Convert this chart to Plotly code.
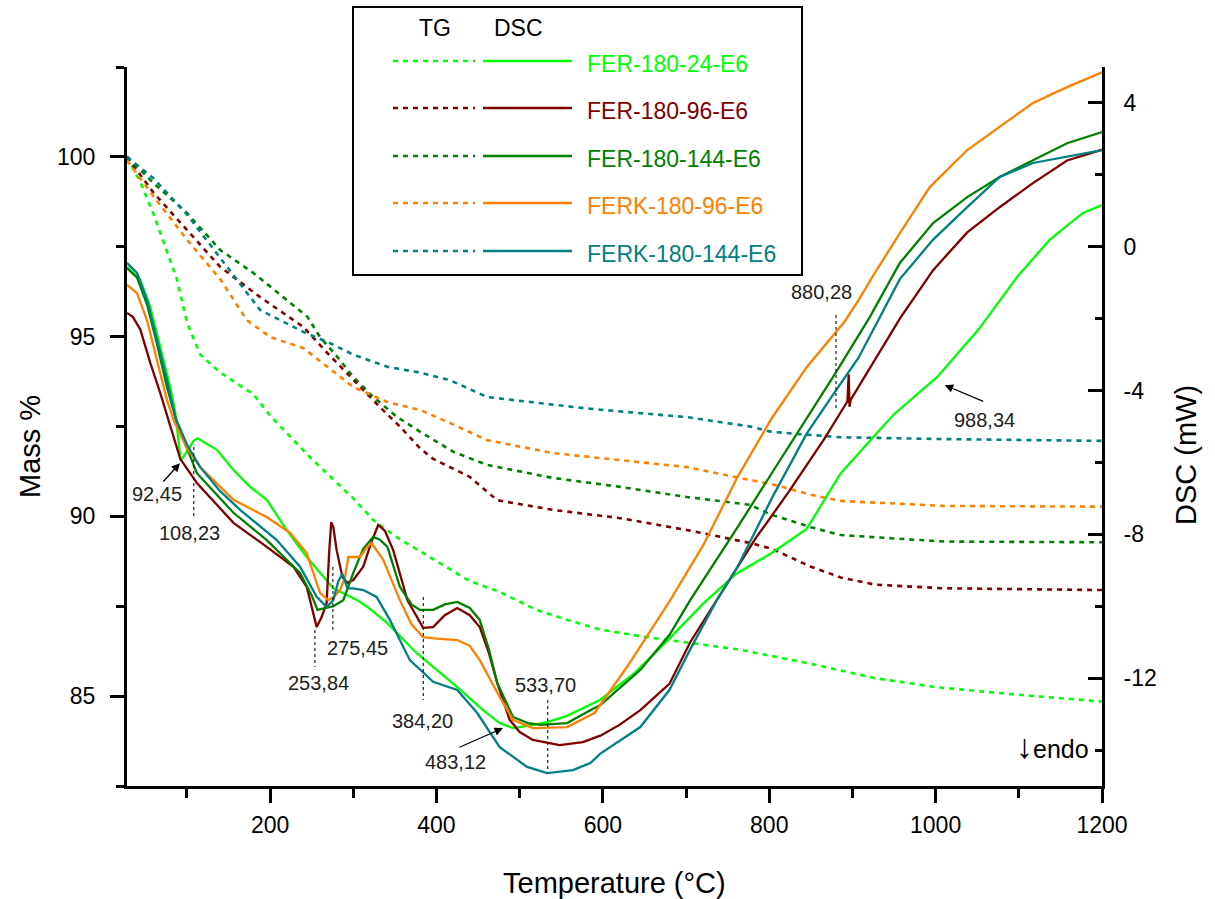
import plotly.graph_objects as go

# ---------------- data ----------------
# TG curves (Mass %, left axis)
tg_T_fer24 = [28, 44, 60, 71, 88, 100, 116, 140, 180, 200, 250, 300, 324, 350, 396, 440, 476, 520, 560, 597, 650, 700, 763, 850, 927, 1000, 1093, 1200]
tg_fer24 = [100, 99.3, 98.4, 97.7, 96.6, 95.4, 94.5, 94.0, 93.4, 92.8, 91.6, 90.5, 89.9, 89.45, 88.8, 88.2, 87.9, 87.4, 87.1, 86.85, 86.65, 86.5, 86.3, 85.9, 85.5, 85.25, 85.05, 84.85]

tg_T_fer96 = [28, 60, 100, 140, 188, 240, 269, 300, 332, 356, 380, 396, 440, 473, 540, 621, 701, 777, 803, 850, 886, 927, 1010, 1200]
tg_fer96 = [100, 99.0, 97.97, 96.94, 96.1, 95.27, 94.54, 93.79, 93.04, 92.5, 91.9, 91.6, 91.1, 90.45, 90.18, 89.95, 89.62, 89.26, 89.1, 88.6, 88.3, 88.1, 88.0, 87.95]

tg_T_fer144 = [28, 60, 100, 140, 180, 220, 245, 260, 281, 300, 324, 353, 380, 420, 461, 540, 621, 701, 777, 803, 850, 886, 1010, 1200]
tg_fer144 = [100, 99.27, 98.44, 97.41, 96.77, 96.02, 95.55, 94.99, 94.43, 93.88, 93.32, 92.76, 92.36, 91.8, 91.43, 91.07, 90.82, 90.54, 90.32, 90.04, 89.7, 89.48, 89.3, 89.28]

tg_T_ferk96 = [28, 60, 100, 140, 172, 200, 240, 269, 300, 341, 380, 416, 461, 540, 621, 701, 777, 803, 850, 886, 1010, 1200]
tg_ferk96 = [99.9, 98.9, 97.7, 96.6, 95.46, 94.99, 94.68, 94.16, 93.6, 93.18, 92.96, 92.6, 92.12, 91.76, 91.57, 91.37, 91.01, 90.9, 90.6, 90.43, 90.29, 90.27]

tg_T_ferk144 = [28, 60, 100, 140, 188, 240, 269, 300, 341, 380, 416, 461, 581, 701, 777, 803, 886, 1010, 1200]
tg_ferk144 = [100, 99.4, 98.4, 97.2, 95.74, 95.13, 94.85, 94.5, 94.16, 94.0, 93.79, 93.32, 93.0, 92.76, 92.5, 92.35, 92.2, 92.15, 92.1]

# DSC curves (mW, right axis)
dsc_T_fer24 = [28, 44, 56, 68, 80, 86, 92.5, 100, 108, 113, 125, 136, 156, 176, 196, 220, 244, 276, 305, 317, 341, 376, 425, 456, 476, 492, 516, 533, 557, 597, 638, 680, 720, 760, 803, 845, 886, 949, 1002, 1052, 1098, 1137, 1177, 1200]
dsc_fer24 = [-0.56, -0.92, -1.68, -2.79, -3.9, -4.6, -5.95, -5.7, -5.4, -5.33, -5.5, -5.65, -6.21, -6.68, -7.04, -7.88, -8.63, -9.5, -9.83, -10.02, -10.47, -11.3, -12.25, -12.89, -13.25, -13.39, -13.3, -13.22, -13.05, -12.6, -11.86, -10.9, -9.94, -9.1, -8.52, -7.85, -6.3, -4.68, -3.62, -2.29, -0.84, 0.19, 0.94, 1.16]

dsc_T_fer96 = [28, 35, 44, 56, 68, 80, 92, 112, 135, 156, 196, 228, 244, 256, 262, 268, 271, 273.5, 276, 280, 287, 293, 300, 312, 322, 330, 338, 348, 365, 384, 396, 410, 425, 440, 452, 463, 473, 488, 500, 516, 548, 576, 597, 620, 645, 680, 705, 737, 784, 824, 866, 890, 894, 895.5, 896.5, 898, 920, 957, 997, 1038, 1077, 1117, 1158, 1200]
dsc_fer96 = [-1.84, -1.95, -2.3, -3.23, -4.07, -5.0, -5.9, -6.57, -7.15, -7.68, -8.35, -8.9, -9.46, -10.58, -10.3, -9.9, -8.5, -7.66, -7.8, -8.44, -9.19, -9.35, -9.27, -8.9, -8.2, -7.74, -7.9, -8.44, -9.83, -10.6, -10.58, -10.25, -10.05, -10.25, -10.58, -11.3, -12.13, -13.16, -13.5, -13.72, -13.86, -13.78, -13.6, -13.3, -12.89, -12.16, -11.0, -9.83, -8.1, -6.8, -5.35, -4.45, -4.3, -3.55, -4.45, -4.25, -3.4, -2.0, -0.65, 0.4, 1.1, 1.77, 2.4, 2.7]

dsc_T_fer144 = [28, 40, 52, 64, 76, 88, 112, 156, 196, 236, 250, 257, 266, 276, 288, 300, 312, 324, 332, 341, 356, 370, 380, 396, 410, 425, 440, 452, 463, 473, 492, 510, 525, 557, 585, 597, 645, 680, 705, 762, 803, 845, 880, 921, 957, 997, 1038, 1077, 1117, 1158, 1200]
dsc_fer144 = [-0.6, -0.85, -1.6, -2.7, -3.9, -4.9, -6.3, -7.4, -8.16, -9.07, -9.7, -10.1, -10.05, -10.0, -9.83, -9.07, -8.4, -8.07, -8.15, -8.35, -9.46, -9.95, -10.1, -10.1, -9.95, -9.88, -10.05, -10.38, -11.2, -12.13, -13.08, -13.25, -13.3, -13.25, -12.89, -12.75, -11.77, -10.8, -9.83, -7.8, -6.3, -4.76, -3.5, -1.95, -0.45, 0.66, 1.38, 1.94, 2.41, 2.88, 3.19]

dsc_T_ferk96 = [28, 40, 52, 64, 76, 84, 100, 116, 156, 196, 224, 244, 260, 270, 276, 284, 290, 294, 308, 315, 322, 336, 356, 370, 384, 400, 425, 440, 452, 473, 492, 516, 557, 590, 629, 681, 720, 762, 803, 845, 870, 890, 907, 925, 957, 993, 1038, 1077, 1117, 1158, 1200]
dsc_ferk96 = [-1.06, -1.29, -2.04, -3.15, -4.26, -4.82, -5.6, -6.13, -7.04, -7.52, -7.96, -8.52, -9.63, -9.83, -9.75, -9.55, -9.2, -8.63, -8.63, -8.4, -8.24, -8.71, -9.83, -10.5, -10.86, -10.9, -10.94, -11.1, -11.5, -12.4, -13.16, -13.39, -13.36, -12.97, -11.69, -9.83, -8.33, -6.4, -4.77, -3.35, -2.65, -2.1, -1.5, -0.8, 0.38, 1.66, 2.69, 3.33, 4.0, 4.44, 4.85]

dsc_T_ferk144 = [28, 40, 52, 64, 76, 86, 100, 116, 140, 164, 208, 236, 256, 268, 276, 282, 287, 293, 300, 312, 328, 344, 368, 396, 425, 449, 476, 509, 533, 564, 585, 597, 645, 680, 705, 737, 762, 803, 845, 880, 907, 957, 997, 1038, 1077, 1117, 1158, 1200]
dsc_ferk144 = [-0.45, -0.73, -1.48, -2.6, -3.7, -4.74, -5.5, -6.13, -6.8, -7.32, -8.16, -8.9, -9.74, -10.02, -9.83, -9.3, -9.1, -9.5, -9.5, -9.55, -9.74, -10.38, -11.5, -12.1, -12.33, -12.97, -13.92, -14.47, -14.64, -14.56, -14.36, -14.1, -13.36, -12.33, -11.2, -9.83, -8.9, -7.0, -5.2, -4.0, -3.1, -0.9, 0.2, 1.1, 1.94, 2.33, 2.5, 2.69]

sample_names = ["FER-180-24-E6", "FER-180-96-E6", "FER-180-144-E6", "FERK-180-96-E6", "FERK-180-144-E6"]
sample_colors = ["#00FF00", "#800000", "#008000", "#FF8000", "#008080"]

tg_T = [tg_T_fer24, tg_T_fer96, tg_T_fer144, tg_T_ferk96, tg_T_ferk144]
tg_v = [tg_fer24, tg_fer96, tg_fer144, tg_ferk96, tg_ferk144]
dsc_T = [dsc_T_fer24, dsc_T_fer96, dsc_T_fer144, dsc_T_ferk96, dsc_T_ferk144]
dsc_v = [dsc_fer24, dsc_fer96, dsc_fer144, dsc_ferk96, dsc_ferk144]

# axis ticks
dsc_tickvals = [-12, -8, -4, 0, 4]
dsc_ticktext = ["-12", "-8", "-4", "0", "4"]

# annotated peak temperatures
peak_labels = ["92,45", "108,23", "253,84", "275,45", "384,20", "483,12", "533,70", "880,28", "988,34"]

FONT = "Liberation Sans, Arial, sans-serif"

# ---------------- figure ----------------
fig = go.Figure()

for name, col, x, y in zip(sample_names, sample_colors, tg_T, tg_v):
    fig.add_trace(go.Scatter(x=x, y=y, mode="lines", name=name + " TG", yaxis="y",
                             line=dict(color=col, width=2.6, dash="5px,5px"), showlegend=False))
for name, col, x, y in zip(sample_names, sample_colors, dsc_T, dsc_v):
    fig.add_trace(go.Scatter(x=x, y=y, mode="lines", name=name + " DSC", yaxis="y2",
                             line=dict(color=col, width=2.3), showlegend=False))

# plot-area geometry in pixels
L, R, T, B = 127, 1102, 67, 786
W, H = R - L, B - T


def px(xp):
    return (xp - L) / W


def py(yp):
    return (B - yp) / H


shapes = []
annotations = []


def text_ann(x, y, text, size, color="black", angle=0, xanchor="center", ref="paper"):
    d = dict(x=x, y=y, text=text, showarrow=False, xanchor=xanchor, yanchor="middle", textangle=angle,
             font=dict(family=FONT, size=size, color=color))
    if ref == "paper":
        d.update(xref="paper", yref="paper")
    else:
        d.update(xref="x", yref="y2")
    return d


# dotted marker lines (x in °C, y in mW)
dotted = [(108.23, -5.57, -7.52), (253.84, -10.66, -11.69), (275.45, -8.91, -10.66),
          (384.20, -9.74, -12.61), (533.70, -12.61, -14.64), (880.28, -1.9, -4.49)]
for xv, y0, y1 in dotted:
    shapes.append(dict(type="line", xref="x", yref="y2", x0=xv, x1=xv, y0=y0, y1=y1,
                       line=dict(color="#222222", width=1.2, dash="dot")))

# label texts
label_pos = [(64, -6.88), (103.7, -7.96), (257.6, -12.13), (305.6, -11.16), (383.8, -13.19),
             (423.4, -14.33), (531.6, -12.19), (863.3, -1.26), (1059, -4.82)]
for txt, (xv, yv) in zip(peak_labels, label_pos):
    annotations.append(text_ann(xv, yv, txt, 20, color="#222222", ref="data"))

# arrows (tip, tail)
arrows = [((91.7, -6.02), (70.1, -6.57)), ((479.9, -13.39), (425.8, -13.94)),
          ((1011, -3.85), (1059, -4.32))]
for (tx, ty), (ax, ay) in arrows:
    annotations.append(dict(x=tx, y=ty, xref="x", yref="y2", ax=ax, ay=ay, axref="x", ayref="y2",
                            text="", showarrow=True, arrowhead=2, arrowsize=1.3, arrowwidth=1.3,
                            arrowcolor="black", standoff=0))

# endo marker
annotations.append(text_ann(px(1052), py(746), "<span style='font-size:34px'>↓</span>endo", 25))

# axis titles
annotations.append(text_ann(0.5, py(883), "Temperature (°C)", 29))
annotations.append(text_ann(px(30), py(447), "Mass %", 29, angle=-90))
annotations.append(text_ann(px(1186), py(455), "DSC (mW)", 29, angle=-90))

# custom legend box (TG dotted | DSC solid | name)
shapes.append(dict(type="rect", xref="paper", yref="paper", x0=px(353), x1=px(802), y0=py(7), y1=py(275),
                   line=dict(color="black", width=2), fillcolor="white", layer="above"))
annotations.append(text_ann(px(435), py(28), "TG", 23))
annotations.append(text_ann(px(518), py(28), "DSC", 23))
row_y = [61, 108, 156, 203, 251]
for name, col, ry in zip(sample_names, sample_colors, row_y):
    shapes.append(dict(type="line", xref="paper", yref="paper", x0=px(393), x1=px(475), y0=py(ry), y1=py(ry),
                       line=dict(color=col, width=2.6, dash="5px,5px"), layer="above"))
    shapes.append(dict(type="line", xref="paper", yref="paper", x0=px(483), x1=px(572), y0=py(ry), y1=py(ry),
                       line=dict(color=col, width=2.6), layer="above"))
    annotations.append(text_ann(px(585), py(ry + 3), name, 23, color=col, xanchor="left"))

fig.update_layout(
    width=1215, height=899,
    margin=dict(l=L, r=1215 - R, t=T, b=899 - B),
    paper_bgcolor="white", plot_bgcolor="white",
    font=dict(family=FONT, color="black"),
    showlegend=False,
    xaxis=dict(range=[28, 1200], tickmode="linear", tick0=0, dtick=200, ticks="outside", ticklen=14,
               tickwidth=2.5, tickcolor="black", showline=True, linewidth=3, linecolor="black",
               showgrid=False, zeroline=False, tickfont=dict(size=23, family=FONT),
               ticklabelstandoff=2,
               minor=dict(ticks="outside", ticklen=9, tickwidth=2.5, tickcolor="black", dtick=100, tick0=0,
                          showgrid=False)),
    yaxis=dict(range=[82.5, 102.5], tickmode="linear", tick0=0, dtick=5, ticks="outside", ticklen=14,
               tickwidth=2.5, tickcolor="black", showline=True, linewidth=3, linecolor="black",
               showgrid=False, zeroline=False, tickfont=dict(size=23, family=FONT),
               ticklabelstandoff=10,
               minor=dict(ticks="outside", ticklen=8, tickwidth=2.5, tickcolor="black", dtick=2.5, tick0=0,
                          showgrid=False)),
    yaxis2=dict(range=[-15, 5], overlaying="y", side="right", tickmode="array", tickvals=dsc_tickvals,
                ticktext=dsc_ticktext,
                ticks="inside", ticklen=14, tickwidth=2.5, tickcolor="black", showline=True, linewidth=3,
                linecolor="black", showgrid=False, zeroline=False, tickfont=dict(size=23, family=FONT),
                ticklabelstandoff=14,
                minor=dict(ticks="inside", ticklen=7, tickwidth=2.5, tickcolor="black", dtick=2, tick0=0,
                           showgrid=False)),
    shapes=shapes,
    annotations=annotations,
)

fig.write_html("out.html")
